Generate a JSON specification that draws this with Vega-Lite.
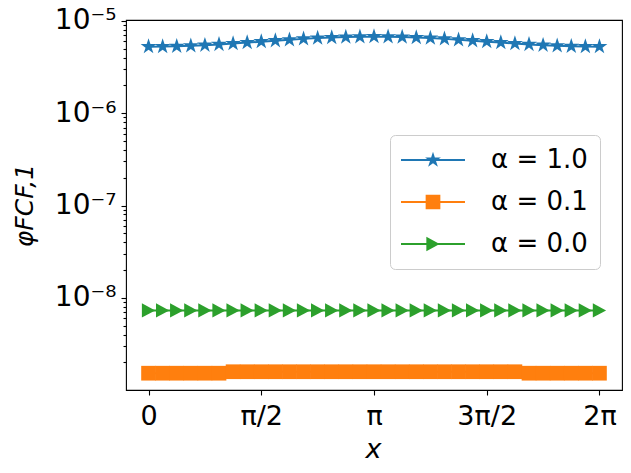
{
  "$schema": "https://vega.github.io/schema/vega-lite/v6.json",
  "width": 496,
  "height": 370,
  "autosize": {"type": "none"},
  "padding": {"left": 126, "top": 20, "right": 9, "bottom": 83},
  "background": "white",
  "config": {
    "font": "DejaVu Sans",
    "view": {"stroke": "#000000", "strokeWidth": 1.1},
    "axis": {"grid": false, "domain": false, "tickColor": "#000000", "tickWidth": 1.1, "labelColor": "#000000", "titleColor": "#000000", "labelFont": "DejaVu Sans", "titleFont": "DejaVu Sans", "labelOverlap": false, "labelFlush": false, "labelBound": false}
  },
  "datasets": {
    "pts": [
      {"x": 0, "y": 5.258e-6, "s": "α = 1.0"},
      {"x": 0.19635, "y": 5.271e-6, "s": "α = 1.0"},
      {"x": 0.3927, "y": 5.309e-6, "s": "α = 1.0"},
      {"x": 0.58905, "y": 5.370e-6, "s": "α = 1.0"},
      {"x": 0.7854, "y": 5.454e-6, "s": "α = 1.0"},
      {"x": 0.98175, "y": 5.559e-6, "s": "α = 1.0"},
      {"x": 1.1781, "y": 5.679e-6, "s": "α = 1.0"},
      {"x": 1.37445, "y": 5.814e-6, "s": "α = 1.0"},
      {"x": 1.5708, "y": 5.957e-6, "s": "α = 1.0"},
      {"x": 1.76715, "y": 6.103e-6, "s": "α = 1.0"},
      {"x": 1.9635, "y": 6.247e-6, "s": "α = 1.0"},
      {"x": 2.15984, "y": 6.383e-6, "s": "α = 1.0"},
      {"x": 2.35619, "y": 6.504e-6, "s": "α = 1.0"},
      {"x": 2.55254, "y": 6.606e-6, "s": "α = 1.0"},
      {"x": 2.74889, "y": 6.683e-6, "s": "α = 1.0"},
      {"x": 2.94524, "y": 6.730e-6, "s": "α = 1.0"},
      {"x": 3.14159, "y": 6.746e-6, "s": "α = 1.0"},
      {"x": 3.33794, "y": 6.730e-6, "s": "α = 1.0"},
      {"x": 3.53429, "y": 6.683e-6, "s": "α = 1.0"},
      {"x": 3.73064, "y": 6.606e-6, "s": "α = 1.0"},
      {"x": 3.92699, "y": 6.504e-6, "s": "α = 1.0"},
      {"x": 4.12334, "y": 6.383e-6, "s": "α = 1.0"},
      {"x": 4.31969, "y": 6.247e-6, "s": "α = 1.0"},
      {"x": 4.51604, "y": 6.103e-6, "s": "α = 1.0"},
      {"x": 4.71239, "y": 5.957e-6, "s": "α = 1.0"},
      {"x": 4.90874, "y": 5.814e-6, "s": "α = 1.0"},
      {"x": 5.10509, "y": 5.679e-6, "s": "α = 1.0"},
      {"x": 5.30144, "y": 5.559e-6, "s": "α = 1.0"},
      {"x": 5.49779, "y": 5.454e-6, "s": "α = 1.0"},
      {"x": 5.69414, "y": 5.370e-6, "s": "α = 1.0"},
      {"x": 5.89049, "y": 5.309e-6, "s": "α = 1.0"},
      {"x": 6.08684, "y": 5.271e-6, "s": "α = 1.0"},
      {"x": 6.28319, "y": 5.258e-6, "s": "α = 1.0"},
      {"x": 0, "y": 1.528e-9, "s": "α = 0.1"},
      {"x": 0.19635, "y": 1.528e-9, "s": "α = 0.1"},
      {"x": 0.3927, "y": 1.528e-9, "s": "α = 0.1"},
      {"x": 0.58905, "y": 1.528e-9, "s": "α = 0.1"},
      {"x": 0.7854, "y": 1.528e-9, "s": "α = 0.1"},
      {"x": 0.98175, "y": 1.528e-9, "s": "α = 0.1"},
      {"x": 1.1781, "y": 1.585e-9, "s": "α = 0.1"},
      {"x": 1.37445, "y": 1.585e-9, "s": "α = 0.1"},
      {"x": 1.5708, "y": 1.585e-9, "s": "α = 0.1"},
      {"x": 1.76715, "y": 1.585e-9, "s": "α = 0.1"},
      {"x": 1.9635, "y": 1.585e-9, "s": "α = 0.1"},
      {"x": 2.15984, "y": 1.585e-9, "s": "α = 0.1"},
      {"x": 2.35619, "y": 1.585e-9, "s": "α = 0.1"},
      {"x": 2.55254, "y": 1.585e-9, "s": "α = 0.1"},
      {"x": 2.74889, "y": 1.585e-9, "s": "α = 0.1"},
      {"x": 2.94524, "y": 1.585e-9, "s": "α = 0.1"},
      {"x": 3.14159, "y": 1.585e-9, "s": "α = 0.1"},
      {"x": 3.33794, "y": 1.585e-9, "s": "α = 0.1"},
      {"x": 3.53429, "y": 1.585e-9, "s": "α = 0.1"},
      {"x": 3.73064, "y": 1.585e-9, "s": "α = 0.1"},
      {"x": 3.92699, "y": 1.585e-9, "s": "α = 0.1"},
      {"x": 4.12334, "y": 1.585e-9, "s": "α = 0.1"},
      {"x": 4.31969, "y": 1.585e-9, "s": "α = 0.1"},
      {"x": 4.51604, "y": 1.585e-9, "s": "α = 0.1"},
      {"x": 4.71239, "y": 1.585e-9, "s": "α = 0.1"},
      {"x": 4.90874, "y": 1.585e-9, "s": "α = 0.1"},
      {"x": 5.10509, "y": 1.585e-9, "s": "α = 0.1"},
      {"x": 5.30144, "y": 1.528e-9, "s": "α = 0.1"},
      {"x": 5.49779, "y": 1.528e-9, "s": "α = 0.1"},
      {"x": 5.69414, "y": 1.528e-9, "s": "α = 0.1"},
      {"x": 5.89049, "y": 1.528e-9, "s": "α = 0.1"},
      {"x": 6.08684, "y": 1.528e-9, "s": "α = 0.1"},
      {"x": 6.28319, "y": 1.528e-9, "s": "α = 0.1"},
      {"x": 0, "y": 7.31e-9, "s": "α = 0.0"},
      {"x": 0.19635, "y": 7.31e-9, "s": "α = 0.0"},
      {"x": 0.3927, "y": 7.31e-9, "s": "α = 0.0"},
      {"x": 0.58905, "y": 7.31e-9, "s": "α = 0.0"},
      {"x": 0.7854, "y": 7.31e-9, "s": "α = 0.0"},
      {"x": 0.98175, "y": 7.31e-9, "s": "α = 0.0"},
      {"x": 1.1781, "y": 7.31e-9, "s": "α = 0.0"},
      {"x": 1.37445, "y": 7.31e-9, "s": "α = 0.0"},
      {"x": 1.5708, "y": 7.31e-9, "s": "α = 0.0"},
      {"x": 1.76715, "y": 7.31e-9, "s": "α = 0.0"},
      {"x": 1.9635, "y": 7.31e-9, "s": "α = 0.0"},
      {"x": 2.15984, "y": 7.31e-9, "s": "α = 0.0"},
      {"x": 2.35619, "y": 7.31e-9, "s": "α = 0.0"},
      {"x": 2.55254, "y": 7.31e-9, "s": "α = 0.0"},
      {"x": 2.74889, "y": 7.31e-9, "s": "α = 0.0"},
      {"x": 2.94524, "y": 7.31e-9, "s": "α = 0.0"},
      {"x": 3.14159, "y": 7.31e-9, "s": "α = 0.0"},
      {"x": 3.33794, "y": 7.31e-9, "s": "α = 0.0"},
      {"x": 3.53429, "y": 7.31e-9, "s": "α = 0.0"},
      {"x": 3.73064, "y": 7.31e-9, "s": "α = 0.0"},
      {"x": 3.92699, "y": 7.31e-9, "s": "α = 0.0"},
      {"x": 4.12334, "y": 7.31e-9, "s": "α = 0.0"},
      {"x": 4.31969, "y": 7.31e-9, "s": "α = 0.0"},
      {"x": 4.51604, "y": 7.31e-9, "s": "α = 0.0"},
      {"x": 4.71239, "y": 7.31e-9, "s": "α = 0.0"},
      {"x": 4.90874, "y": 7.31e-9, "s": "α = 0.0"},
      {"x": 5.10509, "y": 7.31e-9, "s": "α = 0.0"},
      {"x": 5.30144, "y": 7.31e-9, "s": "α = 0.0"},
      {"x": 5.49779, "y": 7.31e-9, "s": "α = 0.0"},
      {"x": 5.69414, "y": 7.31e-9, "s": "α = 0.0"},
      {"x": 5.89049, "y": 7.31e-9, "s": "α = 0.0"},
      {"x": 6.08684, "y": 7.31e-9, "s": "α = 0.0"},
      {"x": 6.28319, "y": 7.31e-9, "s": "α = 0.0"}
    ]
  },
  "data": {"name": "pts"},
  "encoding": {
    "x": {
      "field": "x", "type": "quantitative",
      "scale": {"domain": [-0.31416, 6.59734], "nice": false, "zero": false},
      "axis": {
        "values": [0, 1.5707963, 3.1415927, 4.712389, 6.2831853],
        "labelExpr": "datum.value < 0.1 ? '0' : datum.value < 2 ? 'π/2' : datum.value < 4 ? 'π' : datum.value < 5 ? '3π/2' : '2π'",
        "labelFontSize": 27, "labelPadding": 8, "tickSize": 5,
        "title": "x", "titleFontSize": 27, "titleFontStyle": "italic", "titleFontWeight": "normal",
        "titleX": 247, "titleY": 67, "titleBaseline": "alphabetic", "titleAlign": "center"
      }
    },
    "y": {
      "field": "y", "type": "quantitative",
      "scale": {"type": "log", "domain": [1.005e-9, 1.022e-5], "nice": false, "zero": false},
      "axis": {
        "values": [2e-9, 3e-9, 4e-9, 5e-9, 6e-9, 7e-9, 8e-9, 9e-9, 1e-8, 2e-8, 3e-8, 4e-8, 5e-8, 6e-8, 7e-8, 8e-8, 9e-8, 1e-7, 2e-7, 3e-7, 4e-7, 5e-7, 6e-7, 7e-7, 8e-7, 9e-7, 1e-6, 2e-6, 3e-6, 4e-6, 5e-6, 6e-6, 7e-6, 8e-6, 9e-6, 1e-5],
        "labelExpr": "datum.value == 1e-5 ? '10⁻⁵' : datum.value == 1e-6 ? '10⁻⁶' : datum.value == 1e-7 ? '10⁻⁷' : datum.value == 1e-8 ? '10⁻⁸' : ''",
        "tickSize": {"condition": {"test": "datum.value == 1e-5 || datum.value == 1e-6 || datum.value == 1e-7 || datum.value == 1e-8", "value": 5}, "value": 3},
        "labelFontSize": 28, "labelPadding": 5, "labelBaseline": "middle",
        "title": "φFCF,1", "titleFontSize": 25, "titleFontStyle": "italic", "titleFontWeight": "normal",
        "titleX": -102, "titleY": 185, "titleAngle": -90, "titleAlign": "center", "titleBaseline": "middle"
      }
    }
  },
  "resolve": {"scale": {"color": "independent", "shape": "independent"}},
  "layer": [
    {
      "mark": {"type": "line", "strokeWidth": 2},
      "encoding": {
        "color": {"field": "s", "type": "nominal", "scale": {"domain": ["α = 1.0", "α = 0.1", "α = 0.0"], "range": ["#1f77b4", "#ff7f0e", "#2ca02c"]}, "legend": null}
      }
    },
    {
      "mark": {"type": "point", "filled": true, "size": 196, "opacity": 1, "strokeWidth": 0},
      "encoding": {
        "color": {"field": "s", "type": "nominal", "scale": {"domain": ["α = 1.0", "α = 0.1", "α = 0.0"], "range": ["#1f77b4", "#ff7f0e", "#2ca02c"]}, "legend": null},
        "shape": {
          "field": "s", "type": "nominal", "legend": null,
          "scale": {"domain": ["α = 1.0", "α = 0.1", "α = 0.0"], "range": [
            "M0,-1.186L0.266,-0.366L1.128,-0.366L0.43,0.14L0.697,0.959L0,0.453L-0.697,0.959L-0.43,0.14L-1.128,-0.366L-0.266,-0.366Z",
            "M-1.05,-1.05H1.05V1.05H-1.05Z",
            "M-0.95,-1.02L0.95,0L-0.95,1.02Z"
          ]}
        }
      }
    },
    {
      "mark": {"type": "point", "filled": true, "size": 196, "opacity": 0, "strokeWidth": 0},
      "encoding": {
        "color": {
          "field": "s", "type": "nominal",
          "scale": {"domain": ["α = 1.0", "α = 0.1", "α = 0.0"], "range": ["#1f77b4", "#ff7f0e", "#2ca02c"]},
          "legend": {
            "title": null, "orient": "none", "legendX": 264, "legendY": 115,
            "padding": 12, "symbolOffset": 18, "labelOffset": 45, "rowPadding": 16,
            "labelFontSize": 26, "labelFont": "DejaVu Sans", "labelColor": "#000000", "labelLimit": 0,
            "symbolSize": 196, "symbolStrokeWidth": 0, "symbolOpacity": 1,
            "strokeColor": "#cccccc", "fillColor": "rgba(255,255,255,0.8)", "cornerRadius": 5
          }
        },
        "shape": {
          "field": "s", "type": "nominal",
          "scale": {"domain": ["α = 1.0", "α = 0.1", "α = 0.0"], "range": [
            "M-4.57,-0.14H4.57V0.14H-4.57ZM0,-1.186L0.266,-0.366L1.128,-0.366L0.43,0.14L0.697,0.959L0,0.453L-0.697,0.959L-0.43,0.14L-1.128,-0.366L-0.266,-0.366Z",
            "M-4.57,-0.14H4.57V0.14H-4.57ZM-1.05,-1.05H1.05V1.05H-1.05Z",
            "M-4.57,-0.14H4.57V0.14H-4.57ZM-0.95,-1.02L0.95,0L-0.95,1.02Z"
          ]},
          "legend": {
            "title": null, "orient": "none", "legendX": 264, "legendY": 115,
            "padding": 12, "symbolOffset": 18, "labelOffset": 45, "rowPadding": 16,
            "labelFontSize": 26, "labelFont": "DejaVu Sans", "labelColor": "#000000", "labelLimit": 0,
            "symbolSize": 196, "symbolStrokeWidth": 0, "symbolOpacity": 1,
            "strokeColor": "#cccccc", "fillColor": "rgba(255,255,255,0.8)", "cornerRadius": 5
          }
        }
      }
    }
  ]
}
